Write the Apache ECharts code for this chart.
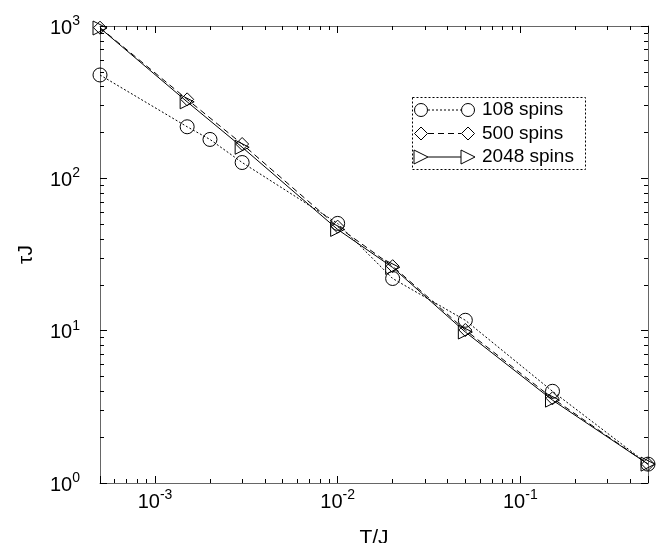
<!DOCTYPE html>
<html><head><meta charset="utf-8">
<script src="https://cdn.jsdelivr.net/npm/echarts@6/dist/echarts.min.js"></script>
<style>html,body{margin:0;padding:0;background:#fff}#chart{width:663px;height:543px}</style>
</head><body><div id="chart"></div>
<script>
// ---- data ----
const seriesNames = ['108 spins', '500 spins', '2048 spins'];
const x108 = [5e-4, 1.5e-3, 2e-3, 3e-3, 1e-2, 2e-2, 5e-2, 0.15, 0.5];
const y108 = [477, 218, 180, 127, 50.6, 22.0, 11.7, 4.0, 1.33];
const x500 = [5e-4, 1.5e-3, 3e-3, 1e-2, 2e-2, 5e-2, 0.15, 0.5];
const y500 = [975, 330, 168, 48.2, 26.5, 10.1, 3.6, 1.33];
const x2048 = [5e-4, 1.5e-3, 3e-3, 1e-2, 2e-2, 5e-2, 0.15, 0.5];
const y2048 = [970, 318, 160, 46.2, 26.0, 9.8, 3.5, 1.33];
const xRange = [5e-4, 0.5];
const yRange = [1, 1000];
const xMajorTicks = [1e-3, 1e-2, 1e-1];
const yMajorTicks = [1, 10, 100, 1000];
const xTitle = 'T/J';
const yTitle = 'τJ';

// minor ticks (2..9 times each decade inside range)
function minorTicks(range) {
  const out = [];
  for (let e = Math.floor(Math.log10(range[0])); e <= Math.ceil(Math.log10(range[1])); e++) {
    for (let m = 2; m <= 9; m++) {
      const v = m * Math.pow(10, e);
      if (v > range[0] * 1.0001 && v < range[1] * 0.9999) out.push(v);
    }
  }
  return out;
}
const xMinor = minorTicks(xRange);
const yMinor = minorTicks(yRange);

const FONT = 'Liberation Sans, Arial, Helvetica, sans-serif';
const zip = (xs, ys) => xs.map((x, i) => [x, ys[i]]);

function labelFmt(majors) {
  return function (v) {
    const lg = Math.log10(v);
    const e = Math.round(lg);
    if (Math.abs(lg - e) > 1e-6) return '';
    if (!majors.some(m => Math.abs(Math.log10(m) - e) < 1e-6)) return '';
    return '{b|10}{s|' + e + '}';
  };
}
function rich() {
  return {
    b: { fontSize: 20, lineHeight: 24, verticalAlign: 'bottom', fontFamily: FONT, color: '#000' },
    s: { fontSize: 14, verticalAlign: 'top', fontFamily: FONT, color: '#000' }
  };
}
function gridBox() { return { left: 100, right: 15, top: 26, bottom: 60, containLabel: false, outerBoundsMode: 'none' }; }

function xAx(grid, pos, minor) {
  const main = grid === 0 && pos === 'bottom';
  const ax = {
    type: 'log', min: xRange[0], max: xRange[1], gridIndex: grid, position: pos,
    splitLine: { show: false },
    axisLine: { show: !minor, lineStyle: { color: '#666', width: 1 } },
    axisTick: { show: true, inside: true, length: minor ? 4 : 7, lineStyle: { color: '#000', width: 1 } },
    axisLabel: { show: false }
  };
  if (minor) ax.axisTick.customValues = xMinor;
  if (main) {
    ax.axisLabel = { show: true, margin: 5, formatter: labelFmt(xMajorTicks), rich: rich(), fontSize: 20, fontFamily: FONT, color: '#000' };
    ax.name = xTitle; ax.nameLocation = 'middle'; ax.nameGap = 45;
    ax.nameTextStyle = { fontSize: 21, fontFamily: FONT, color: '#000' };
  }
  return ax;
}
function yAx(grid, pos, minor) {
  const main = grid === 0 && pos === 'left';
  const ax = {
    type: 'log', min: yRange[0], max: yRange[1], gridIndex: grid, position: pos,
    splitLine: { show: false },
    axisLine: { show: !minor, lineStyle: { color: '#666', width: 1 } },
    axisTick: { show: true, inside: true, length: minor ? 4 : 7, lineStyle: { color: '#000', width: 1 } },
    axisLabel: { show: false }
  };
  if (minor) ax.axisTick.customValues = yMinor;
  if (main) {
    ax.axisLabel = { show: true, margin: 20, formatter: labelFmt(yMajorTicks), rich: rich(), fontSize: 20, fontFamily: FONT, color: '#000' };
    ax.name = yTitle; ax.nameLocation = 'middle'; ax.nameGap = 63; ax.nameRotate = 90;
    ax.nameTextStyle = { fontSize: 21, fontFamily: FONT, color: '#000' };
  }
  return ax;
}

const lineSeries = [
  { name: seriesNames[0], data: zip(x108, y108), symbol: 'circle', symbolSize: 14, lineType: [2, 2] },
  { name: seriesNames[1], data: zip(x500, y500), symbol: 'diamond', symbolSize: 13, lineType: [6, 4] },
  { name: seriesNames[2], data: zip(x2048, y2048), symbol: 'triangle', symbolSize: 14, symbolRotate: -90, lineType: 'solid' }
].map(s => ({
  type: 'line', name: s.name, data: s.data, symbol: s.symbol, symbolSize: s.symbolSize,
  xAxisIndex: 0, yAxisIndex: 0,
  symbolRotate: s.symbolRotate || 0, showSymbol: true, showAllSymbol: true, clip: false,
  lineStyle: { color: '#000', width: 1, type: s.lineType },
  itemStyle: { color: 'rgba(0,0,0,0)', borderColor: '#000', borderWidth: 1 }, z: 3
}));

// legend drawn with graphic elements
const LX = 412, LY = 97, LW = 173, LH = 72;
const rows = [110, 133.5, 157];
const lx1 = 421, lx2 = 468, tx = 482;
function circleEl(cx, cy) { return { type: 'circle', shape: { cx: cx, cy: cy, r: 6.5 }, style: { fill: 'none', stroke: '#000', lineWidth: 1 } }; }
function diamondEl(cx, cy) { return { type: 'polygon', shape: { points: [[cx, cy - 6.5], [cx + 6.5, cy], [cx, cy + 6.5], [cx - 6.5, cy]] }, style: { fill: 'none', stroke: '#000', lineWidth: 1 } }; }
function triEl(cx, cy) { return { type: 'polygon', shape: { points: [[cx - 7, cy - 7], [cx + 7, cy], [cx - 7, cy + 7]] }, style: { fill: 'none', stroke: '#000', lineWidth: 1 } }; }
const symFns = [circleEl, diamondEl, triEl];
const dashes = [[2, 2], [6, 4], null];
const legendEls = [{ type: 'rect', shape: { x: LX + 0.5, y: LY + 0.5, width: LW, height: LH }, style: { fill: '#fff', stroke: '#000', lineWidth: 1, lineDash: [2, 2] }, z: 10 }];
seriesNames.forEach((n, i) => {
  const y = rows[i];
  legendEls.push({ type: 'line', shape: { x1: lx1 + 7, y1: y, x2: lx2 - 7, y2: y }, style: { stroke: '#000', lineWidth: 1, lineDash: dashes[i] }, z: 11 });
  legendEls.push(Object.assign(symFns[i](lx1, y), { z: 11 }));
  legendEls.push(Object.assign(symFns[i](lx2, y), { z: 11 }));
  legendEls.push({ type: 'text', x: tx, y: y, style: { text: n, fontSize: 19, fontFamily: FONT, fill: '#000', verticalAlign: 'middle', align: 'left' }, z: 11 });
});

const chart = echarts.init(document.getElementById('chart'));
chart.setOption({
  animation: false,
  backgroundColor: '#fff',
  grid: [gridBox(), gridBox()],
  xAxis: [xAx(0, 'bottom', false), xAx(0, 'top', false), xAx(1, 'bottom', true), xAx(1, 'top', true)],
  yAxis: [yAx(0, 'left', false), yAx(0, 'right', false), yAx(1, 'left', true), yAx(1, 'right', true)],
  series: lineSeries,
  graphic: legendEls
});
</script></body></html>
